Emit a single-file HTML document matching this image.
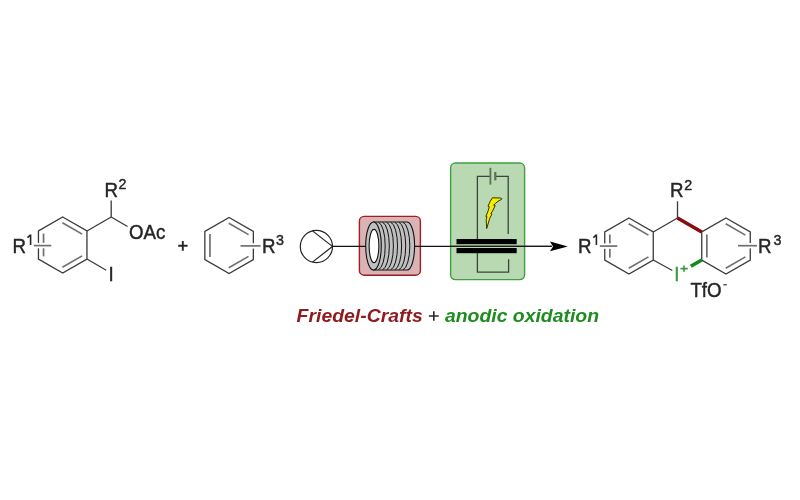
<!DOCTYPE html>
<html><head><meta charset="utf-8"><style>
html,body{margin:0;padding:0;background:#fff;}
svg{display:block;filter:blur(0.55px);}
text{font-family:"Liberation Sans",sans-serif;}
</style></head><body>
<svg width="800" height="500" viewBox="0 0 800 500">
<rect width="800" height="500" fill="#fff"/>
<polygon points="62.70,217.00 86.95,231.00 86.95,259.00 62.70,273.00 38.45,259.00 38.45,231.00" fill="none" stroke="#3a3a3a" stroke-width="1.3" stroke-linejoin="miter"/>
<line x1="62.40" y1="222.72" x2="82.15" y2="234.12" stroke="#707070" stroke-width="1.7" />
<line x1="82.15" y1="255.88" x2="62.40" y2="267.28" stroke="#707070" stroke-width="1.7" />
<line x1="43.55" y1="256.40" x2="43.55" y2="233.60" stroke="#707070" stroke-width="1.7" />
<line x1="33.8" y1="245.6" x2="51.2" y2="245.6" stroke="#fff" stroke-width="5.4"/><line x1="33.8" y1="245.6" x2="51.2" y2="245.6" stroke="#707070" stroke-width="1.7"/>
<line x1="86.95" y1="231.00" x2="111.20" y2="217.00" stroke="#3a3a3a" stroke-width="1.3" />
<line x1="111.20" y1="217.00" x2="111.20" y2="200.50" stroke="#3a3a3a" stroke-width="1.3" />
<line x1="111.20" y1="217.00" x2="127.50" y2="226.50" stroke="#3a3a3a" stroke-width="1.3" />
<line x1="86.95" y1="259.00" x2="106.20" y2="270.20" stroke="#3a3a3a" stroke-width="1.3" />
<text transform="translate(12.6,252.6) scale(1,1.06)" x="0" y="0" font-size="18.7" fill="#262626" stroke="#262626" stroke-width="0.42">R</text>
<path d="M27.50,237.6 L30.30,235.2 M30.60,234.6 V245.0" stroke="#262626" stroke-width="1.6" fill="none"/>
<text transform="translate(104.4,197.0) scale(1,1.06)" x="0" y="0" font-size="18.7" fill="#262626" stroke="#262626" stroke-width="0.42">R</text>
<text transform="translate(118.4,189.3) scale(1,1.06)" x="0" y="0" font-size="14.3" fill="#262626" stroke="#262626" stroke-width="0.42">2</text>
<text transform="translate(128.9,239.0) scale(1,1.06)" x="0" y="0" font-size="18.7" fill="#262626" stroke="#262626" stroke-width="0.42">OAc</text>
<text transform="translate(108.6,280.6) scale(1,1.06)" x="0" y="0" font-size="18.7" fill="#262626" stroke="#262626" stroke-width="0.42">I</text>
<path d="M178.2,245.8 H187.6 M182.8,241 V250.8" stroke="#262626" stroke-width="1.9" fill="none"/>
<polygon points="229.10,217.50 253.35,231.50 253.35,259.50 229.10,273.50 204.85,259.50 204.85,231.50" fill="none" stroke="#3a3a3a" stroke-width="1.3" stroke-linejoin="miter"/>
<line x1="228.80" y1="223.22" x2="248.55" y2="234.62" stroke="#707070" stroke-width="1.7" />
<line x1="248.55" y1="256.38" x2="228.80" y2="267.78" stroke="#707070" stroke-width="1.7" />
<line x1="209.95" y1="256.90" x2="209.95" y2="234.10" stroke="#707070" stroke-width="1.7" />
<line x1="240.5" y1="245.9" x2="260.6" y2="245.9" stroke="#fff" stroke-width="5.4"/><line x1="240.5" y1="245.9" x2="260.6" y2="245.9" stroke="#707070" stroke-width="1.7"/>
<text transform="translate(261.9,252.5) scale(1,1.06)" x="0" y="0" font-size="18.7" fill="#262626" stroke="#262626" stroke-width="0.42">R</text>
<text transform="translate(275.9,244.6) scale(1,1.06)" x="0" y="0" font-size="14.3" fill="#262626" stroke="#262626" stroke-width="0.42">3</text>
<circle cx="316.4" cy="246.5" r="16.1" fill="none" stroke="#222" stroke-width="1.2"/>
<polyline points="312.5,230.9 332.4,246.4 312.5,262.1" fill="none" stroke="#222" stroke-width="1.2"/>
<rect x="359.4" y="216.4" width="61" height="58.8" rx="4.8" fill="#dbb3b5" stroke="#9e1f23" stroke-width="1.4"/>
<rect x="450.6" y="163" width="74" height="116.6" rx="4.8" fill="#b9d9b3" stroke="#3f9f3f" stroke-width="1.4"/>
<line x1="332.6" y1="246.4" x2="552" y2="246.4" stroke="#111" stroke-width="1.2"/>
<path d="M373.5,222 L407.1,222 A7.5,24 0 0 1 407.1,270 L373.5,270 Z" fill="#c0c0c0" stroke="#111" stroke-width="1.1"/>
<path d="M378.40,222.3 A7.5,23.8 0 0 1 378.40,269.7" fill="none" stroke="#111" stroke-width="1.0"/>
<path d="M382.50,222.3 A7.5,23.8 0 0 1 382.50,269.7" fill="none" stroke="#111" stroke-width="1.0"/>
<path d="M386.60,222.3 A7.5,23.8 0 0 1 386.60,269.7" fill="none" stroke="#111" stroke-width="1.0"/>
<path d="M390.70,222.3 A7.5,23.8 0 0 1 390.70,269.7" fill="none" stroke="#111" stroke-width="1.0"/>
<path d="M394.80,222.3 A7.5,23.8 0 0 1 394.80,269.7" fill="none" stroke="#111" stroke-width="1.0"/>
<path d="M398.90,222.3 A7.5,23.8 0 0 1 398.90,269.7" fill="none" stroke="#111" stroke-width="1.0"/>
<path d="M403.00,222.3 A7.5,23.8 0 0 1 403.00,269.7" fill="none" stroke="#111" stroke-width="1.0"/>
<ellipse cx="373.5" cy="246" rx="7.8" ry="24" fill="#c0c0c0" stroke="#111" stroke-width="1.1"/>
<ellipse cx="374" cy="246" rx="4.9" ry="16.6" fill="#fff" stroke="#111" stroke-width="1.1"/>
<polyline points="490,176.3 477.4,176.3 477.4,239" fill="none" stroke="#3a463a" stroke-width="1.3"/>
<polyline points="495.4,176.3 508.2,176.3 508.2,234" fill="none" stroke="#3a463a" stroke-width="1.3"/>
<line x1="490.4" y1="167.8" x2="490.4" y2="184.6" stroke="#587058" stroke-width="1.8"/>
<line x1="495.3" y1="172" x2="495.3" y2="180.4" stroke="#587058" stroke-width="2.2"/>
<polyline points="477.4,253 477.4,272.2 508.6,272.2 508.6,259.2" fill="none" stroke="#3a463a" stroke-width="1.3"/>
<rect x="456.5" y="239" width="60.2" height="5.2" fill="#000"/>
<rect x="456.5" y="248" width="60.2" height="5.2" fill="#000"/>
<line x1="450" y1="246.4" x2="552" y2="246.4" stroke="#1a1a1a" stroke-width="1.2"/>
<path d="M492.4,197.8 L500.5,198 Q502.4,198.3 501.6,199.3 L498,201.3 L495.4,203.4 L493.6,205.2 L495.2,205.5 L492.6,211.0 L490.8,213.6 L492.0,214.0 L489.8,218.2 L486.7,228.6 L486.2,219.8 L486.9,216.6 L485.9,216.4 L488.0,211.2 L489.3,206.8 L488.0,206.2 L490.2,201.3 Z" fill="#f8ec00" stroke="#333300" stroke-width="1.0" stroke-linejoin="miter" stroke-miterlimit="3"/>
<path d="M567.8,246.4 L550,241.6 L553,246.4 L550,251.2 Z" fill="#000"/>
<polygon points="629.00,218.00 653.25,232.00 653.25,260.00 629.00,274.00 604.75,260.00 604.75,232.00" fill="none" stroke="#3a3a3a" stroke-width="1.3" stroke-linejoin="miter"/>
<line x1="628.70" y1="223.72" x2="648.45" y2="235.12" stroke="#707070" stroke-width="1.7" />
<line x1="648.45" y1="256.88" x2="628.70" y2="268.28" stroke="#707070" stroke-width="1.7" />
<line x1="609.85" y1="257.40" x2="609.85" y2="234.60" stroke="#707070" stroke-width="1.7" />
<line x1="599.8" y1="246.1" x2="617.3" y2="246.1" stroke="#fff" stroke-width="5.4"/><line x1="599.8" y1="246.1" x2="617.3" y2="246.1" stroke="#707070" stroke-width="1.7"/>
<text transform="translate(577.9,252.6) scale(1,1.06)" x="0" y="0" font-size="18.7" fill="#262626" stroke="#262626" stroke-width="0.42">R</text>
<path d="M593.30,237.6 L596.10,235.2 M596.40,234.6 V245.0" stroke="#262626" stroke-width="1.6" fill="none"/>
<polygon points="726.00,218.00 750.25,232.00 750.25,260.00 726.00,274.00 701.75,260.00 701.75,232.00" fill="none" stroke="#3a3a3a" stroke-width="1.3" stroke-linejoin="miter"/>
<line x1="725.70" y1="223.72" x2="745.45" y2="235.12" stroke="#707070" stroke-width="1.7" />
<line x1="745.45" y1="256.88" x2="725.70" y2="268.28" stroke="#707070" stroke-width="1.7" />
<line x1="706.85" y1="257.40" x2="706.85" y2="234.60" stroke="#707070" stroke-width="1.7" />
<line x1="738" y1="245.7" x2="757" y2="245.7" stroke="#fff" stroke-width="5.4"/><line x1="738" y1="245.7" x2="757" y2="245.7" stroke="#707070" stroke-width="1.7"/>
<text transform="translate(758.1,252.5) scale(1,1.06)" x="0" y="0" font-size="18.7" fill="#262626" stroke="#262626" stroke-width="0.42">R</text>
<text transform="translate(773.6,244.8) scale(1,1.06)" x="0" y="0" font-size="14.3" fill="#262626" stroke="#262626" stroke-width="0.42">3</text>
<line x1="653.25" y1="232.00" x2="677.50" y2="218.00" stroke="#3a3a3a" stroke-width="1.3" />
<line x1="677.50" y1="218.00" x2="677.50" y2="201.30" stroke="#3a3a3a" stroke-width="1.3" />
<line x1="677.50" y1="218.00" x2="701.75" y2="232.00" stroke="#8a0a0c" stroke-width="3.5" />
<text transform="translate(670.0,197.0) scale(1,1.06)" x="0" y="0" font-size="18.7" fill="#262626" stroke="#262626" stroke-width="0.42">R</text>
<text transform="translate(684.2,189.5) scale(1,1.06)" x="0" y="0" font-size="14.3" fill="#262626" stroke="#262626" stroke-width="0.42">2</text>
<line x1="653.25" y1="260.00" x2="672.30" y2="270.50" stroke="#3a3a3a" stroke-width="1.3" />
<line x1="690.80" y1="266.20" x2="701.75" y2="260.00" stroke="#168a16" stroke-width="3.6" />
<text transform="translate(674.3,280.6) scale(1,1.06)" x="0" y="0" font-size="18.7" fill="#3a9a3a" stroke="#3a9a3a" stroke-width="0.42">I</text>
<path d="M680.4,268.6 H687.8 M684,265.4 V271.8" stroke="#3a9a3a" stroke-width="1.6" fill="none"/>
<text transform="translate(690.4,296.5) scale(1,1.06)" x="0" y="0" font-size="18.7" fill="#262626" stroke="#262626" stroke-width="0.42">TfO</text>
<line x1="723.3" y1="284.8" x2="726.8" y2="284.8" stroke="#333" stroke-width="1.2"/>
<text transform="translate(296.6,322.2) scale(1.07,1)" x="0" y="0" font-size="18.15" font-weight="bold" font-style="italic"><tspan fill="#8e1b1e">Friedel-Crafts</tspan><tspan fill="#fff" font-weight="normal" font-style="normal"> + </tspan><tspan fill="#1e8c1e">anodic oxidation</tspan></text>
<path d="M428.9,316 H438.7 M433.8,311.2 V320.8" stroke="#262626" stroke-width="1.6" fill="none"/>
</svg>
</body></html>
